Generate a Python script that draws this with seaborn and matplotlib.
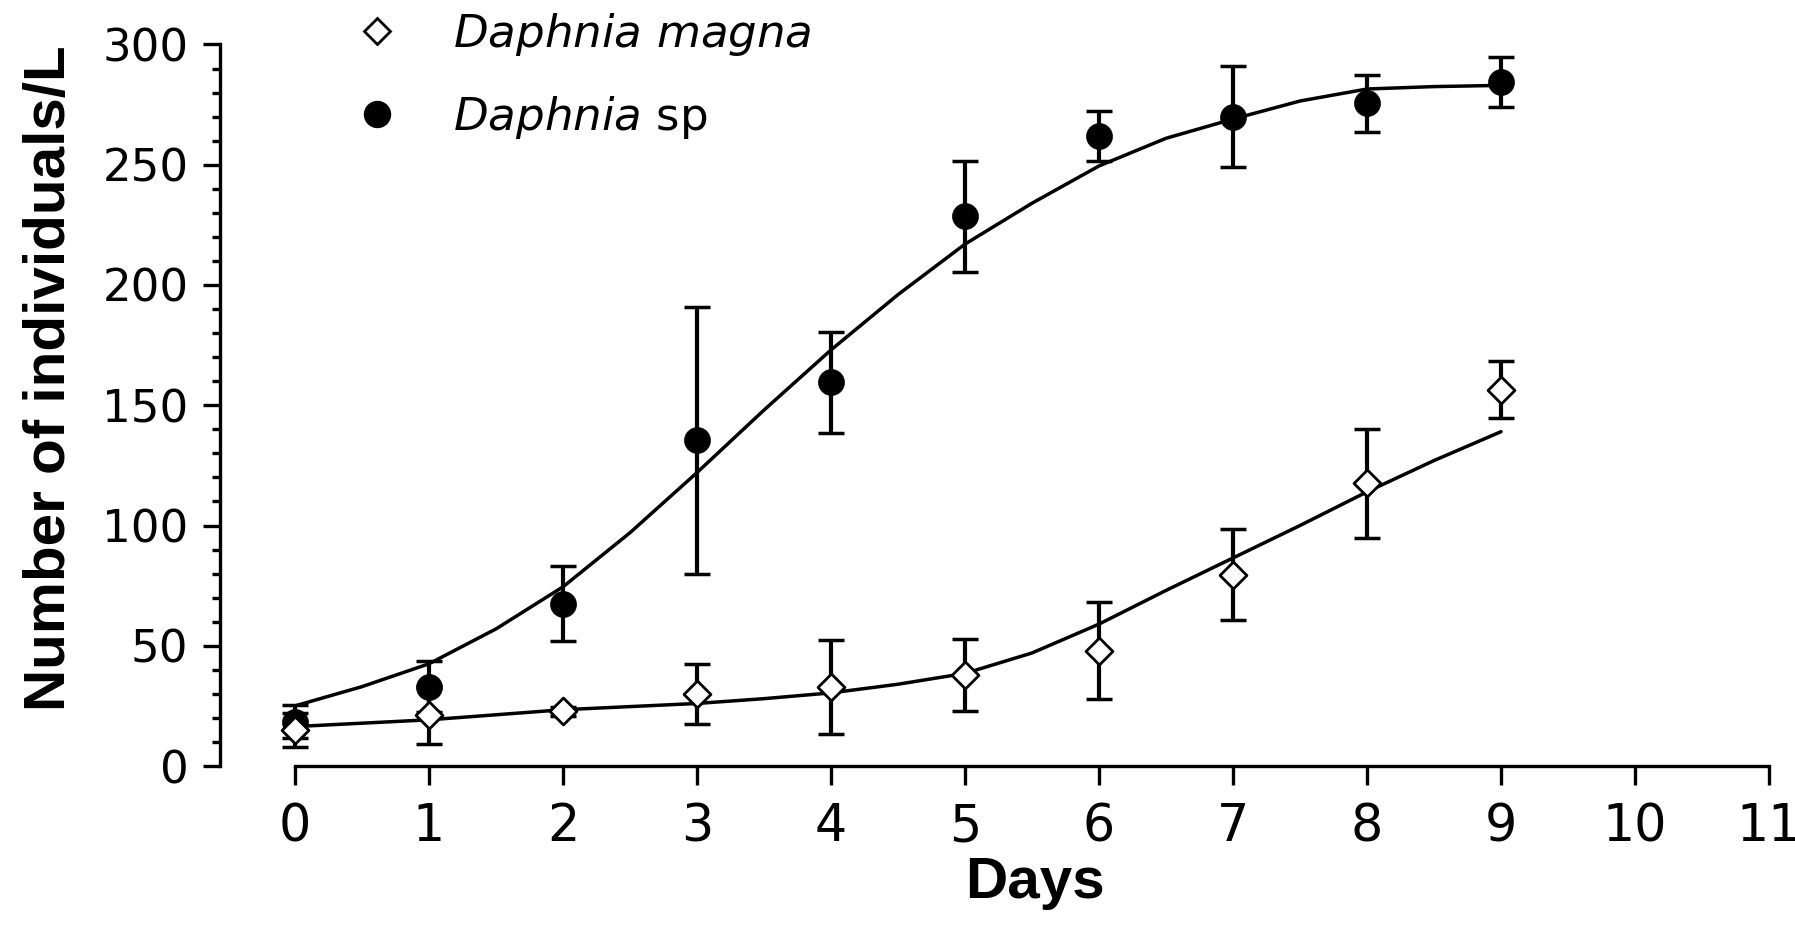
import matplotlib
matplotlib.use("Agg")
import matplotlib.pyplot as plt
import seaborn as sns
import pandas as pd
from matplotlib.lines import Line2D
from matplotlib.ticker import MultipleLocator

# ---------------- data ----------------
days = [0, 1, 2, 3, 4, 5, 6, 7, 8, 9]
sp_mean = [18.5, 33, 67.5, 135.5, 159.5, 228.5, 262, 270, 275.5, 284.5]
sp_err = [7, 10.5, 15.5, 55.5, 21, 23, 10.5, 21, 12, 10.5]
magna_mean = [15, 21, 22.7, 30, 33, 38, 48, 79.5, 117.5, 156.5]
magna_err = [7, 12, 2, 12.5, 19.5, 15, 20.3, 19, 22.6, 12]

fit_days = [0, 0.5, 1, 1.5, 2, 2.5, 3, 3.5, 4, 4.5, 5, 5.5, 6, 6.5, 7, 7.5, 8, 8.5, 9]
sp_fit = [25, 33, 42.5, 57, 74.5, 97, 122, 148, 173, 196, 217, 234, 249.5,
          261, 269, 276.5, 281.5, 282.5, 283]
magna_fit = [16.4, 17.8, 19.2, 21.3, 23.4, 24.7, 26, 28, 30.4, 34, 38.5, 47, 59,
             73, 86.5, 100, 114, 127, 139]

x_ticks = list(range(0, 12))
y_ticks = [0, 50, 100, 150, 200, 250, 300]
labels = [r"$\mathit{Daphnia\ magna}$", r"$\mathit{Daphnia}$ sp"]
xlabel = "Days"
ylabel = "Number of individuals/L"

# ---------------- style ----------------
sns.set_style("ticks")
plt.rcParams["font.family"] = ["DejaVu Sans"]
plt.rcParams["mathtext.fontset"] = "dejavusans"
plt.rcParams["text.color"] = "black"
plt.rcParams["axes.labelcolor"] = "black"
plt.rcParams["xtick.color"] = "black"
plt.rcParams["ytick.color"] = "black"

W, H = 1795, 936
fig = plt.figure(figsize=(W / 100, H / 100), dpi=100)
ax_left, ax_right = 220, 1769
ax_bottom, ax_top = 766, 44.5
ax = fig.add_axes([ax_left / W, 1 - ax_bottom / H,
                   (ax_right - ax_left) / W, (ax_bottom - ax_top) / H])

fit_df = pd.DataFrame({"day": fit_days, "sp": sp_fit, "magna": magna_fit})
pts_df = pd.DataFrame({"day": days, "sp": sp_mean, "magna": magna_mean})

# fitted curves
sns.lineplot(data=fit_df, x="day", y="sp", color="black", lw=2.5, ax=ax,
             zorder=2, estimator=None)
sns.lineplot(data=fit_df, x="day", y="magna", color="black", lw=2.5, ax=ax,
             zorder=2, estimator=None)

# error bars
ax.errorbar(days, sp_mean, yerr=sp_err, fmt="none", ecolor="black",
            elinewidth=3.0, capsize=9.7, capthick=2.5, zorder=3, clip_on=False)
ax.errorbar(days, magna_mean, yerr=magna_err, fmt="none", ecolor="black",
            elinewidth=3.0, capsize=9.7, capthick=2.5, zorder=3, clip_on=False)

# points
sns.scatterplot(data=pts_df, x="day", y="sp", marker="o", s=18.7 ** 2,
                color="black", edgecolor="black", linewidth=0.5, ax=ax,
                zorder=4, clip_on=False)
sns.scatterplot(data=pts_df, x="day", y="magna", marker="D", s=13.7 ** 2,
                color="white", edgecolor="black", linewidth=2.0, ax=ax,
                zorder=5, clip_on=False)

# axes
ax.set_xlim(-75 / 134, 11)
ax.set_ylim(0, 300)
ax.set_xticks(x_ticks)
ax.set_yticks(y_ticks)
ax.yaxis.set_minor_locator(MultipleLocator(10))
for s in ["top", "right"]:
    ax.spines[s].set_visible(False)
for s in ["left", "bottom"]:
    ax.spines[s].set_linewidth(2.4)
    ax.spines[s].set_color("black")
ax.spines["bottom"].set_bounds(0, 11)

ax.tick_params(axis="y", which="major", length=12.2, width=2.4, pad=10.5,
               labelsize=32.5, colors="black", direction="out")
ax.tick_params(axis="y", which="minor", length=5.8, width=2.4, colors="black",
               direction="out")
ax.tick_params(axis="x", which="major", length=13.7, width=2.4, pad=12.5,
               labelsize=36.5, colors="black", direction="out")

ax.set_xlabel(xlabel, fontsize=42, fontweight="bold", family="Liberation Sans",
              color="black")
ax.set_ylabel(ylabel, fontsize=42, fontweight="bold", family="Liberation Sans",
              color="black")
ax.xaxis.set_label_coords((1035 - ax_left) / (ax_right - ax_left),
                          (ax_bottom - 856) / (ax_bottom - ax_top))
ax.yaxis.set_label_coords((77 - ax_left) / (ax_right - ax_left),
                          (ax_bottom - 378) / (ax_bottom - ax_top))

# legend
handles = [
    Line2D([], [], marker="D", ls="none", mfc="white", mec="black", ms=13.7, mew=2.0),
    Line2D([], [], marker="o", ls="none", mfc="black", mec="black", ms=18.7),
]
fs = 32.5
fs_px = fs * 100 / 72
leg = ax.legend(handles, labels, loc="upper left", frameon=False,
                bbox_to_anchor=((377 - fs_px / 2) / W, 1 - 11 / H),
                bbox_transform=fig.transFigure, fontsize=fs,
                handlelength=1.0, handletextpad=1.18, borderaxespad=0,
                borderpad=0, labelspacing=0.8)
for t in leg.get_texts():
    t.set_color("black")

fig.savefig("out.png", dpi=100)
